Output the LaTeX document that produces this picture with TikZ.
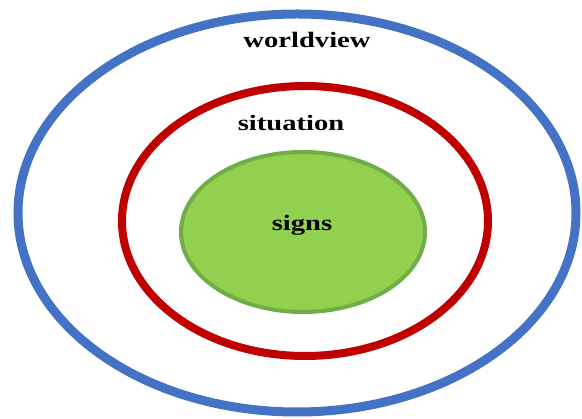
\documentclass[tikz,border=0pt]{standalone}
\usepackage{fontspec}
\setmainfont{Liberation Serif}
\definecolor{wblue}{HTML}{4472C4}
\definecolor{sred}{HTML}{C00000}
\definecolor{ggreen}{HTML}{92D050}
\definecolor{gborder}{HTML}{70AD47}
\tikzset{
  lbl/.style={font=\fontsize{22}{24}\selectfont\bfseries, inner sep=0pt, xscale=1.3},
}
\begin{document}
\begin{tikzpicture}[x=1pt,y=-1pt]
\useasboundingbox (0,0) rectangle (582,419);
\draw[wblue, line width=9pt] (297,213) ellipse [x radius=279, y radius=199];
\draw[sred, line width=8pt] (305,221) ellipse [x radius=183, y radius=135];
\draw[gborder, fill=ggreen, line width=4pt] (303,232) ellipse [x radius=122, y radius=80];
\node[lbl] (w) at (307,40) {worldview};
\node[lbl] (s) at (291,123) {situation};
\node[lbl] (g) at (302,225) {signs};
\end{tikzpicture}
\end{document}
